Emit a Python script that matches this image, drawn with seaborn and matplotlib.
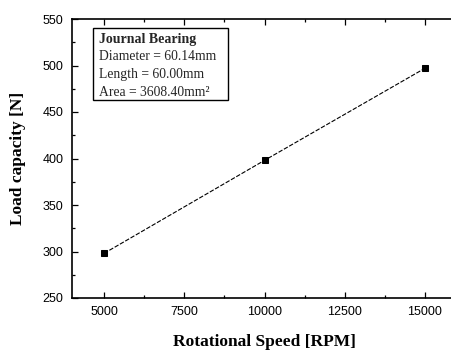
import matplotlib
matplotlib.use("Agg")
import matplotlib.pyplot as plt
from matplotlib.ticker import MultipleLocator
from matplotlib.patches import Rectangle
import seaborn as sns
import pandas as pd

speed = [5000, 10000, 15000]
load = [298, 398, 497]
x_ticks = [5000, 7500, 10000, 12500, 15000]
y_ticks = [250, 300, 350, 400, 450, 500, 550]
box_title = "Journal Bearing"
box_lines = ["Diameter = 60.14mm", "Length = 60.00mm", "Area = 3608.40mm²"]

sns.set_theme(style="ticks")
plt.rcParams['font.family'] = ['Liberation Sans', 'DejaVu Sans']

df = pd.DataFrame({"speed": speed, "load": load})

fig = plt.figure(figsize=(4.52, 3.5), dpi=100)
ax = fig.add_axes([72/452, 52/350, 385/452, 279/350])
sns.lineplot(data=df, x="speed", y="load", ax=ax, color="black", lw=0.8,
             linestyle=(0, (4, 1.5)), marker="s", markersize=5,
             markeredgecolor="black", markerfacecolor="black")

ax.set_xlim(4000, 16000)
ax.set_ylim(250, 550)
ax.set_xticks(x_ticks)
ax.set_yticks(y_ticks)
ax.xaxis.set_minor_locator(MultipleLocator(1250))
ax.yaxis.set_minor_locator(MultipleLocator(25))
ax.tick_params(which="both", direction="in", top=True, right=True, labelsize=9,
               width=0.9, color="black", labelcolor="black", pad=6)
ax.tick_params(which="major", length=4)
ax.tick_params(which="minor", length=2.5)
for s in ax.spines.values():
    s.set_color("black")
    s.set_linewidth(1.2)

ax.set_xlabel("Rotational Speed [RPM]", fontsize=12.5, fontweight="bold",
              family="Liberation Serif", color="black", labelpad=11)
ax.set_ylabel("Load capacity [N]", fontsize=12.5, fontweight="bold",
              family="Liberation Serif", color="black", labelpad=12)

# text box (in pixel-derived figure coordinates)
fig.add_artist(Rectangle((93/452, 1 - 100/350), 135/452, 72/350,
                         transform=fig.transFigure, fc="white", ec="black", lw=1.0,
                         zorder=4))
fig.text(99/452, 1 - 39/350, box_title, fontsize=10, fontweight="bold",
         family="Liberation Serif", va="center", ha="left", zorder=5)
for i, line in enumerate(box_lines):
    fig.text(99/452, 1 - (57 + 17.5 * i)/350, line, fontsize=9.8,
             family="Liberation Serif", va="center", ha="left", zorder=5)

fig.savefig("out.png", dpi=100)
